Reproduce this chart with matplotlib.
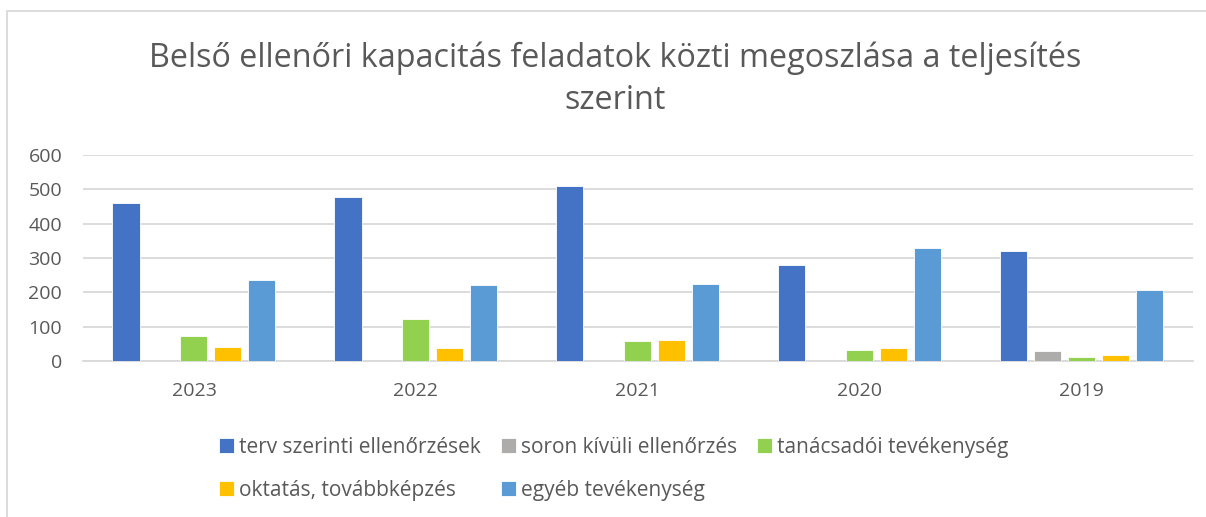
import matplotlib.pyplot as plt
from matplotlib.patches import Rectangle
import numpy as np

years = ['2023', '2022', '2021', '2020', '2019']
series_names = ['terv szerinti ellenőrzések', 'soron kívüli ellenőrzés',
                'tanácsadói tevékenység', 'oktatás, továbbképzés', 'egyéb tevékenység']
terv = [461, 477, 511, 279, 321]
soron = [0, 0, 0, 0, 29]
tanacsadoi = [72, 122, 58, 32, 12]
oktatas = [40, 38, 62, 38, 17]
egyeb = [235, 221, 225, 329, 207]
colors = ['#4472C4', '#AEABAB', '#92D050', '#FFC000', '#5B9BD5']

TEXT = '#595959'
GRID = '#D9D9D9'
plt.rcParams['font.family'] = ['Open Sans', 'DejaVu Sans']

fig = plt.figure(figsize=(12.06, 5.17), dpi=100)
ax = fig.add_axes([0.0688, 0.3017, 0.9202, 0.3985])

x = np.arange(len(years))
slot = 0.153
width = 0.122
for i, (vals, name, c) in enumerate(zip([terv, soron, tanacsadoi, oktatas, egyeb], series_names, colors)):
    ax.bar(x + (i - 2) * slot, vals, width, color=c, label=name,
           edgecolor='white', linewidth=0.6, zorder=3)

ax.set_xlim(-0.5, 4.5)
ax.set_ylim(0, 600)
ax.set_yticks(range(0, 601, 100))
ax.set_xticks(x)
ax.set_xticklabels(years)
ax.grid(axis='y', color=GRID, linewidth=1.3, zorder=0)
for s in ['top', 'right', 'left']:
    ax.spines[s].set_visible(False)
ax.spines['bottom'].set_color(GRID)
ax.spines['bottom'].set_linewidth(1.3)
ax.tick_params(axis='both', length=0, labelsize=14, labelcolor=TEXT)
ax.tick_params(axis='y', pad=15)
ax.tick_params(axis='x', pad=15)

fig.text(0.51, 0.888, 'Belső ellenőri kapacitás feladatok közti megoszlása a teljesítés',
         ha='center', va='center', fontsize=23.3, color=TEXT)
fig.text(0.51, 0.806, 'szerint', ha='center', va='center', fontsize=23.3, color=TEXT)

# legend filled column-wise: reorder handles so rows read left to right
handles, labels = ax.get_legend_handles_labels()
order = [0, 3, 1, 4, 2]
leg = fig.legend([handles[k] for k in order], [labels[k] for k in order],
                 ncol=3, loc='center', bbox_to_anchor=(0.509, 0.093),
                 frameon=False, fontsize=15, handlelength=0.72, handleheight=0.72,
                 handletextpad=0.25, columnspacing=0.95, labelspacing=1.08)
for t in leg.get_texts():
    t.set_color(TEXT)

# chart area border
fig.patches.append(Rectangle((7 / 1206, -0.1), 1.2, 1 - 11 / 517 + 0.1,
                             transform=fig.transFigure, fill=False,
                             edgecolor=GRID, linewidth=1.3))

fig.savefig('out.png', dpi=100, facecolor='white')
